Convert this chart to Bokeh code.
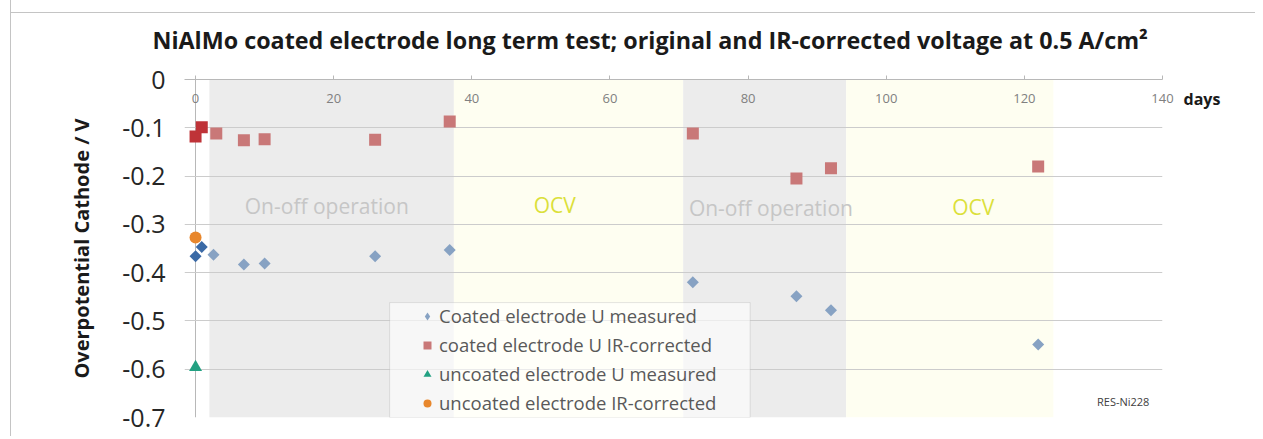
import numpy as np
from bokeh.plotting import figure
from bokeh.models import Range1d, FixedTicker, Legend, LegendItem, Label, LinearAxis, BoxAnnotation
from bokeh.core.properties import value
from bokeh.embed import file_html
from bokeh.resources import INLINE

# ---------------- data ----------------
coated_u_days = [0, 0.9, 2.6, 7, 10, 26, 36.8, 72, 87, 92, 122]
coated_u_values = [-0.366, -0.347, -0.363, -0.383, -0.381, -0.366, -0.353, -0.420, -0.449, -0.478, -0.549]
coated_ir_days = [0, 0.9, 3, 7, 10, 26, 36.8, 72, 87, 92, 122]
coated_ir_values = [-0.118, -0.099, -0.112, -0.126, -0.124, -0.125, -0.087, -0.112, -0.205, -0.184, -0.180]
uncoated_u_days = [0]
uncoated_u_values = [-0.596]
uncoated_ir_days = [0]
uncoated_ir_values = [-0.327]

phase_start = [2, 37.4, 70.6, 94.2]
phase_end = [37.4, 70.6, 94.2, 124.2]
phase_names = ["On-off operation", "OCV", "On-off operation", "OCV"]
phase_label_days = [19, 52, 83.3, 112.6]
phase_label_values = [-0.261, -0.259, -0.266, -0.264]

x_ticks = [0, 20, 40, 60, 80, 100, 120, 140]
y_ticks = [0, -0.1, -0.2, -0.3, -0.4, -0.5, -0.6, -0.7]
y_tick_labels = ["0", "-0.1", "-0.2", "-0.3", "-0.4", "-0.5", "-0.6", "-0.7"]

title_text = "NiAlMo coated electrode long term test; original and IR-corrected voltage at 0.5 A/cm\u00b2"
y_title = "Overpotential Cathode / V"
x_unit = "days"
legend_labels = ["Coated electrode U measured", "coated electrode U IR-corrected",
                 "uncoated electrode U measured", "uncoated electrode IR-corrected"]
footnote = "RES-Ni228"

FONT = "Open Sans"

# ---------------- figure ----------------
X0, X1 = -1.6, 140
Y0, Y1 = -0.7, 0
p = figure(width=1244, height=439, frame_width=978, frame_height=338,
           x_range=Range1d(X0, X1), y_range=Range1d(Y0, Y1),
           x_axis_location="above",
           output_backend="svg", toolbar_location=None,
           min_border_left=173, min_border_right=93,
           min_border_top=82, min_border_bottom=19)
# chart-area frame: left border plus a thin top rule drawn behind the (transparent) canvas margin
p.styles = {"border-left": "1px solid #c4c4c4",
            "margin-left": "10px", "margin-top": "-3px",
            "background": "linear-gradient(#c4c4c4, #c4c4c4) 0 15px / 100% 1px no-repeat, #ffffff"}

p.background_fill_color = "white"
p.border_fill_alpha = 0
p.outline_line_color = None

# title
p.title.text = title_text
p.title.align = "left"
p.title.offset = -32
p.title.text_font = FONT
p.title.text_font_style = "bold"
p.title.text_font_size = "23.3px"
p.title.text_color = "#1a1a1a"
p.title.standoff = 47

# x axis (top)
xa = p.xaxis[0]
xa.ticker = FixedTicker(ticks=x_ticks)
xa.major_tick_out = 4
xa.major_tick_in = 0
xa.minor_tick_out = 0
xa.minor_tick_in = 0
xa.axis_line_color = "#b8b8b8"
xa.major_tick_line_color = "#b8b8b8"
xa.major_label_text_font = FONT
xa.major_label_text_font_size = "13px"
xa.major_label_text_color = "#808080"
xa.major_label_standoff = -27

# y axis
ya = p.yaxis[0]
ya.ticker = FixedTicker(ticks=y_ticks)
ya.major_label_overrides = dict(zip(y_ticks, y_tick_labels))
ya.major_tick_out = 0
ya.major_tick_in = 0
ya.minor_tick_out = 0
ya.minor_tick_in = 0
ya.axis_line_color = None
ya.major_label_text_font = FONT
ya.major_label_text_font_size = "25px"
ya.major_label_text_color = "#262626"
ya.major_label_standoff = 19
ya.axis_label = y_title
ya.axis_label_text_font = FONT
ya.axis_label_text_font_style = "bold"
ya.axis_label_text_font_size = "20px"
ya.axis_label_text_color = "#1a1a1a"
ya.axis_label_standoff = 24

# "days" unit on the right, level with the x tick labels
ra = LinearAxis(ticker=FixedTicker(ticks=[-0.04]), major_label_overrides={-0.04: x_unit})
ra.axis_line_color = None
ra.major_tick_out = 0
ra.major_tick_in = 0
ra.minor_tick_out = 0
ra.minor_tick_in = 0
ra.major_label_standoff = 21
ra.major_label_text_font = FONT
ra.major_label_text_font_style = "bold"
ra.major_label_text_font_size = "16px"
ra.major_label_text_color = "#1a1a1a"
p.add_layout(ra, "right")

# grids: horizontal lines + vertical axis line at day 0 and right border at 140
p.xgrid.ticker = FixedTicker(ticks=[0, X1])
p.xgrid.grid_line_color = "#b8b8b8"
p.ygrid.ticker = FixedTicker(ticks=y_ticks)
p.ygrid.grid_line_color = "#cccccc"

# phase bands
band_colors = ["#ececec" if "On-off" in n else "#fefef1" for n in phase_names]
p.quad(left=phase_start, right=phase_end, bottom=Y0, top=Y1,
       fill_color=band_colors, line_color=None, level="image")

text_colors = ["#c6c6c6" if "On-off" in n else "#dbe03a" for n in phase_names]
p.text(x=phase_label_days, y=phase_label_values, text=phase_names,
       text_color=text_colors, text_font=value(FONT), text_font_size="21px",
       text_align="center", text_baseline="middle")

# data markers
first_phase = phase_start[0]
u_colors = ["#3b6aa6" if d < first_phase else "#87a2c3" for d in coated_u_days]
ir_colors = ["#bf3338" if d < first_phase else "#c97878" for d in coated_ir_days]

r_u = p.scatter(coated_u_days, coated_u_values, marker="square", angle=np.pi / 4,
                size=8.5, fill_color=u_colors, line_color=None)
r_ir = p.scatter(coated_ir_days, coated_ir_values, marker="square",
                 size=12, fill_color=ir_colors, line_color=None)
r_uu = p.scatter(uncoated_u_days, uncoated_u_values, marker="triangle",
                 size=13, fill_color="#22a182", line_color=None)
r_ui = p.scatter(uncoated_ir_days, uncoated_ir_values, marker="circle",
                 size=12, fill_color="#e8872c", line_color=None)
# legend swatch for the diamonds (legend markers are drawn unrotated); no visible point
r_u_key = p.scatter(x=[np.nan], y=[np.nan], marker="diamond", fill_color="#87a2c3", line_color=None)

# legend frame
p.add_layout(BoxAnnotation(left=28.1, right=80.3, top=-0.462, bottom=Y0,
                           fill_color="white", fill_alpha=0.6,
                           line_color="#a6a6a6", line_width=1))

legend = Legend(items=[
    LegendItem(label=legend_labels[0], renderers=[r_u_key], index=0),
    LegendItem(label=legend_labels[1], renderers=[r_ir], index=2),
    LegendItem(label=legend_labels[2], renderers=[r_uu], index=0),
    LegendItem(label=legend_labels[3], renderers=[r_ui], index=0),
], location=(230, -1))
legend.border_line_alpha = 0
legend.background_fill_alpha = 0
legend.label_text_font = FONT
legend.label_text_font_size = "18.5px"
legend.label_text_color = "#595959"
legend.padding = 3
legend.spacing = 4
legend.margin = 0
legend.glyph_height = 20
legend.glyph_width = 20
legend.label_height = 20
legend.label_standoff = 2
p.add_layout(legend, "center")

p.add_layout(Label(x=138.1, y=-0.667, text=footnote, text_align="right",
                   text_baseline="middle", text_font=FONT, text_font_size="11px",
                   text_color="#404040"))

open("out.html", "w").write(file_html(p, INLINE))
